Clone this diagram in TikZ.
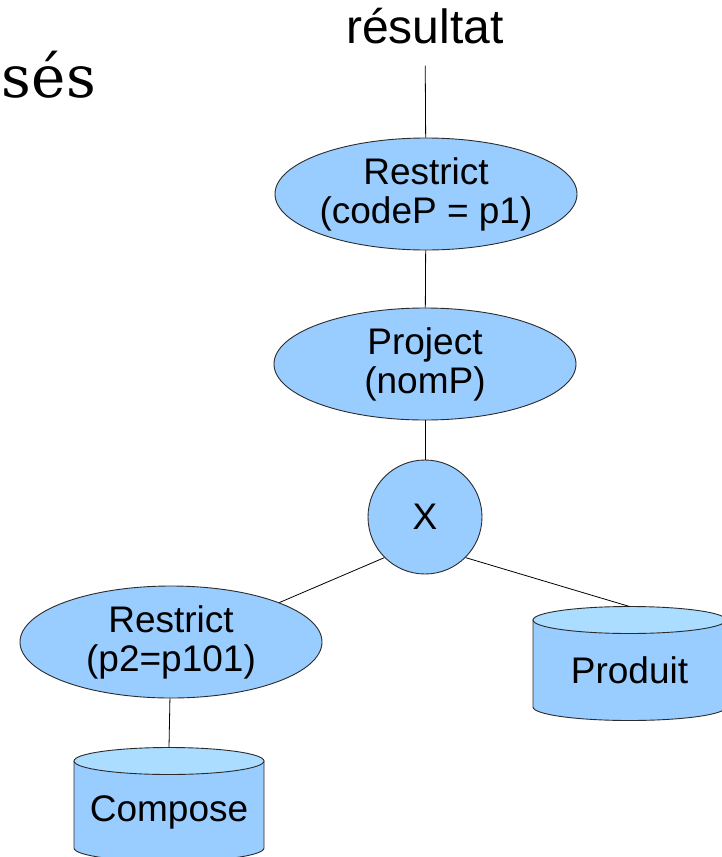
\documentclass[tikz,border=0pt]{standalone}
\usepackage{fontspec}
\setmainfont{Liberation Sans}
\newfontfamily\slidefont{DejaVu Serif}
\usetikzlibrary{shapes.geometric}

\definecolor{opfill}{HTML}{99CCFF}
\definecolor{tablefill}{HTML}{AADDFF}
\definecolor{outline}{HTML}{2B2B2B}

\tikzset{
  op/.style={ellipse,draw=outline,line width=0.9pt,fill=opfill,inner sep=0pt,
    minimum width=302pt,minimum height=112pt,align=center,
    font=\fontsize{37}{39}\selectfont},
  prodop/.style={circle,draw=outline,line width=0.9pt,fill=opfill,inner sep=0pt,
    minimum size=114pt,font=\fontsize{37}{39}\selectfont},
  tablebody/.style={draw=outline,line width=0.9pt,fill=opfill},
  tabletop/.style={draw=outline,line width=0.9pt,fill=tablefill},
  tablename/.style={inner sep=0pt,font=\fontsize{37}{39}\selectfont},
  link/.style={draw=black,line width=0.8pt}
}

\begin{document}
\begin{tikzpicture}[x=1pt,y=-1pt]
  \useasboundingbox[fill=white] (0,0) rectangle (722,857);

  \node[anchor=base east,inner sep=0pt,font=\slidefont\fontsize{58}{60}\selectfont] (title) at (96,97) {sés};
  \node[anchor=base,inner sep=0pt,font=\fontsize{48}{50}\selectfont] (res) at (425,43) {résultat};

  \node[op] (restrictA) at (426,194) {Restrict\\(codeP = p1)};
  \node[op] (project) at (425,364) {Project\\(nomP)};
  \node[prodop] (prod) at (425,517) {X};
  \node[op] (restrictB) at (171,642) {Restrict\\(p2=p101)};

  % tables drawn as cylinders
  \path[tablebody] (74,761) -- (74,848) arc[start angle=180,end angle=360,x radius=95pt,y radius=13.5pt]
    -- (264,761) -- cycle;
  \path[tabletop] (169,761) ellipse[x radius=95pt,y radius=13.5pt];
  \coordinate (composeTop) at (169,747.5);
  \node[tablename] (compose) at (169,812) {Compose};

  \path[tablebody] (533,620) -- (533,707) arc[start angle=180,end angle=360,x radius=96.5pt,y radius=13.5pt]
    -- (726,620) -- cycle;
  \path[tabletop] (629.5,620) ellipse[x radius=96.5pt,y radius=13.5pt];
  \coordinate (produitTop) at (629.5,606.5);
  \node[tablename] (produit) at (629.5,670) {Produit};

  \path[link,shorten <=22pt] (res) -- (restrictA);
  \path[link] (restrictA) -- (project);
  \path[link] (project) -- (prod);
  \path[link] (prod.225) -- (restrictB.20);
  \path[link] (prod.315) -- (produitTop);
  \path[link] (restrictB) -- (composeTop);
\end{tikzpicture}
\end{document}
